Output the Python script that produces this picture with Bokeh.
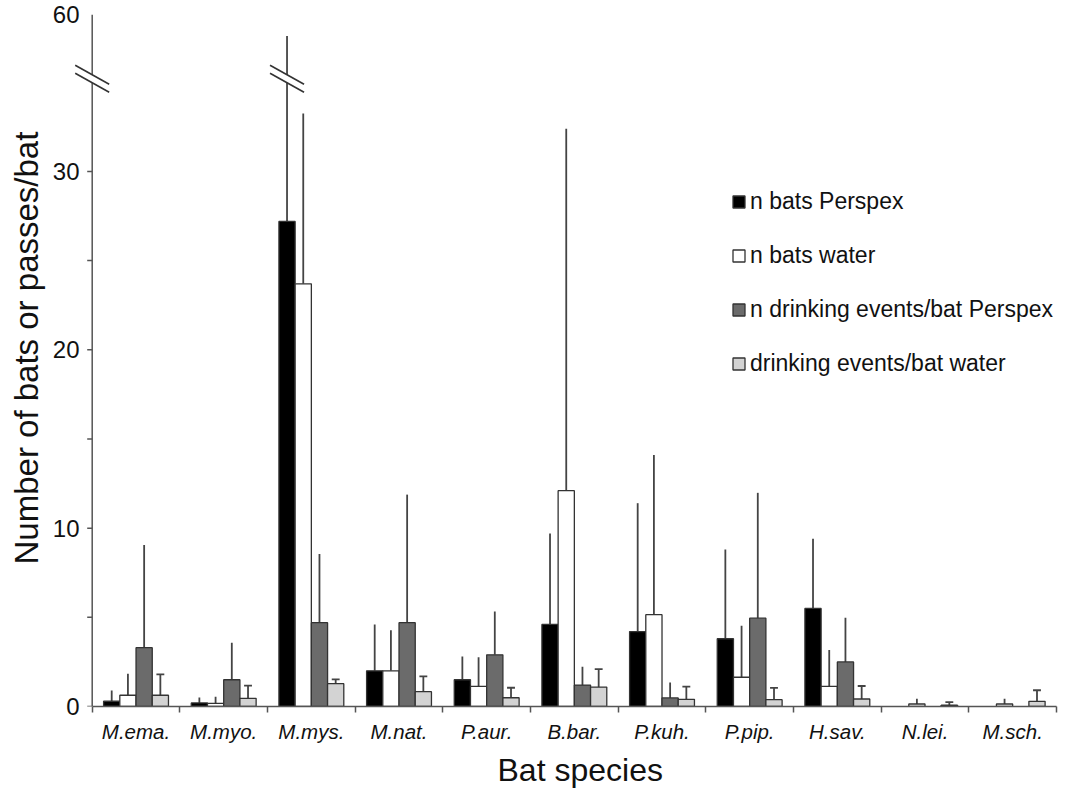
from bokeh.plotting import figure
from bokeh.models import (ColumnDataSource, FixedTicker, Legend, LegendItem,
                          Arrow, PolyAnnotation, Range1d, Title)
from bokeh.embed import file_html
from bokeh.resources import INLINE

# ---------------- data ----------------
species = ["M.ema.", "M.myo.", "M.mys.", "M.nat.", "P.aur.", "B.bar.",
           "P.kuh.", "P.pip.", "H.sav.", "N.lei.", "M.sch."]
series_names = ["n bats Perspex", "n bats water",
                "n drinking events/bat Perspex", "drinking events/bat water"]
x_title = "Bat species"
y_title = "Number of bats or passes/bat"

bats_perspex = [0.3, 0.2, 27.2, 2.0, 1.5, 4.6, 4.2, 3.8, 5.5, 0.0, 0.0]
bats_perspex_sd = [0.6, 0.3, 27.8, 2.6, 1.3, 5.1, 7.2, 5.0, 3.9, 0.0, 0.0]

bats_water = [0.63, 0.18, 23.7, 2.0, 1.13, 12.1, 5.15, 1.64, 1.13, 0.14, 0.14]
bats_water_sd = [1.2, 0.37, 9.55, 2.27, 1.63, 20.3, 8.95, 2.89, 2.04, 0.3, 0.3]

drink_perspex = [3.3, 1.5, 4.7, 4.7, 2.9, 1.2, 0.48, 4.95, 2.5, 0.0, 0.0]
drink_perspex_sd = [5.76, 2.08, 3.85, 7.18, 2.42, 1.03, 0.86, 7.03, 2.48, 0.0, 0.0]

drink_water = [0.63, 0.46, 1.28, 0.83, 0.49, 1.09, 0.40, 0.38, 0.42, 0.07, 0.29]
drink_water_sd = [1.17, 0.71, 0.24, 0.86, 0.56, 1.01, 0.71, 0.66, 0.73, 0.18, 0.62]

y_tick_values = [0, 10, 20, 30, 60]
y_minor_values = [0, 5, 10, 15, 20, 25, 30]

means = [bats_perspex, bats_water, drink_perspex, drink_water]
sds = [bats_perspex_sd, bats_water_sd, drink_perspex_sd, drink_water_sd]

# ---------------- broken axis mapping ----------------
BREAK_AT = 35.2      # axis value where the break sits
UPPER_START = 45.0   # value just above the break
AXIS_MAX = 60.0
PLOT_TOP = 38.8      # plotted position of AXIS_MAX


def to_plot(v):
    if v <= BREAK_AT:
        return v
    return BREAK_AT + (v - UPPER_START) / (AXIS_MAX - UPPER_START) * (PLOT_TOP - BREAK_AT)


# ---------------- layout / styles ----------------
FONT = "Liberation Sans"
FILLS = ["#000000", "#ffffff", "#6b6b6b", "#d3d3d3"]
EDGE = "#333333"
ERR = "#444444"
AXIS_C = "#555555"
TEXT_C = "#111111"
BAR_W = 0.185
CAP = [0.0, 0.0, 0.0, 0.045]

N = len(species)
LEFT = 70            # canvas px of frame left
RIGHT = 1052         # canvas px of frame right
X0_PX = 87.7         # canvas px where the y axis sits
FRAME_W = RIGHT - LEFT
FRAME_H = 692
XPAD = (X0_PX - LEFT) * N / (FRAME_W - (X0_PX - LEFT))
px_x = FRAME_W / (N + XPAD)
px_y = FRAME_H / PLOT_TOP

p = figure(frame_width=FRAME_W, frame_height=FRAME_H, output_backend="svg",
           toolbar_location=None, tools="",
           x_range=Range1d(-XPAD, N), y_range=Range1d(0, PLOT_TOP),
           min_border_left=LEFT, min_border_right=9, min_border_top=14,
           min_border_bottom=0)
p.outline_line_color = None
p.xgrid.visible = False
p.ygrid.visible = False
p.background_fill_color = "white"

# y axis line and ticks drawn in data space so the break can cut them
p.segment(x0=0, y0=0, x1=0, y1=PLOT_TOP, line_color=AXIS_C, line_width=1.5)
tick_len = 5 / px_x
p.segment(x0=[-tick_len] * len(y_minor_values), y0=y_minor_values,
          x1=[0] * len(y_minor_values), y1=y_minor_values,
          line_color=AXIS_C, line_width=1.5)

renderers = []
for k in range(4):
    xs, tops = [], []
    ex, ey0, ey1 = [], [], []
    cx0, cx1, cy = [], [], []
    for i in range(N):
        m = means[k][i]
        s = sds[k][i]
        if m <= 0:
            continue
        x = i + 0.5 + (k - 1.5) * BAR_W
        xs.append(x)
        tops.append(to_plot(m))
        ex.append(x)
        ey0.append(to_plot(m))
        ey1.append(to_plot(m + s))
        if CAP[k] > 0:
            cx0.append(x - CAP[k])
            cx1.append(x + CAP[k])
            cy.append(to_plot(m + s))
    src = ColumnDataSource(dict(x=xs, top=tops))
    esrc = ColumnDataSource(dict(x=ex, y0=ey0, y1=ey1))
    p.segment(x0="x", y0="y0", x1="x", y1="y1", source=esrc,
              line_color=ERR, line_width=1.8)
    if cx0:
        p.segment(x0=cx0, y0=cy, x1=cx1, y1=cy, line_color=ERR, line_width=1.8)
    r = p.vbar(x="x", top="top", bottom=0, width=BAR_W, source=src,
               fill_color=FILLS[k], line_color=EDGE, line_width=1.3)
    renderers.append(r)

# ---------------- break marks ----------------
half_dx = 17 / px_x
half_dy = 9.5 / px_y
gap = 8 / px_y

break_x = [0.0]
for k in range(4):
    for i in range(N):
        if means[k][i] + sds[k][i] > BREAK_AT:
            break_x.append(i + 0.5 + (k - 1.5) * BAR_W)

bx0, by0, bx1, by1 = [], [], [], []
for bx in break_x:
    c_hi = BREAK_AT + gap / 2
    c_lo = BREAK_AT - gap / 2
    poly_x = [bx - half_dx * 0.5, bx + half_dx * 0.5, bx + half_dx * 0.5, bx - half_dx * 0.5]
    poly_y = [c_hi + half_dy * 0.5, c_hi - half_dy * 0.5, c_lo - half_dy * 0.5, c_lo + half_dy * 0.5]
    p.add_layout(PolyAnnotation(xs=poly_x, ys=poly_y, fill_color="white", fill_alpha=1.0,
                                line_color=None))
    for c in (c_hi, c_lo):
        bx0.append(bx - half_dx)
        by0.append(c + half_dy)
        bx1.append(bx + half_dx)
        by1.append(c - half_dy)

bsrc = ColumnDataSource(dict(x0=bx0, y0=by0, x1=bx1, y1=by1))
p.add_layout(Arrow(end=None, x_start="x0", y_start="y0", x_end="x1", y_end="y1",
                   source=bsrc, line_color="#333333", line_width=1.6))

# ---------------- axes ----------------
xa = p.xaxis[0]
xa.bounds = (0, N)
xa.ticker = FixedTicker(ticks=[i + 0.5 for i in range(N)],
                        minor_ticks=list(range(N + 1)))
xa.major_label_overrides = {i + 0.5: s for i, s in enumerate(species)}
xa.major_tick_line_color = None
xa.major_tick_out = 0
xa.minor_tick_line_color = AXIS_C
xa.minor_tick_line_width = 1.5
xa.minor_tick_out = 6
xa.minor_tick_in = 0
xa.axis_line_color = AXIS_C
xa.axis_line_width = 1.5
xa.major_label_text_font = FONT
xa.major_label_text_font_style = "italic"
xa.major_label_text_font_size = "20.5px"
xa.major_label_text_color = TEXT_C
xa.major_label_standoff = 7

ya = p.yaxis[0]
y_positions = [to_plot(v) if v <= BREAK_AT else PLOT_TOP for v in y_tick_values]
ya.ticker = FixedTicker(ticks=y_positions)
ya.major_label_overrides = {pos: str(v) for pos, v in zip(y_positions, y_tick_values)}
ya.major_tick_line_color = None
ya.minor_tick_line_color = None
ya.major_tick_out = 0
ya.major_tick_in = 0
ya.minor_tick_out = 0
ya.minor_tick_in = 0
ya.axis_line_color = None
ya.major_label_text_font = FONT
ya.major_label_text_font_size = "24px"
ya.major_label_text_color = TEXT_C
ya.major_label_standoff = int(LEFT - 75)

# axis titles as side-panel titles so they can be placed like the reference
p.add_layout(Title(text=x_title, align="left", offset=423, standoff=9,
                   text_font=FONT, text_font_size="32px", text_font_style="normal",
                   text_color=TEXT_C), "below")
p.add_layout(Title(text=y_title, align="left", offset=142, standoff=10,
                   text_font=FONT, text_font_size="33px", text_font_style="normal",
                   text_color=TEXT_C), "left")

# ---------------- legend ----------------
legend = Legend(items=[LegendItem(label=n, renderers=[r]) for n, r in zip(series_names, renderers)],
                location=(657, 329), orientation="vertical",
                glyph_width=15, glyph_height=15, label_height=28, spacing=26,
                padding=0, margin=0, label_standoff=4,
                label_text_font=FONT, label_text_font_size="23px",
                label_text_color=TEXT_C,
                border_line_color=None, background_fill_alpha=0.0)
p.add_layout(legend, "center")

open("out.html", "w").write(file_html(p, INLINE))
